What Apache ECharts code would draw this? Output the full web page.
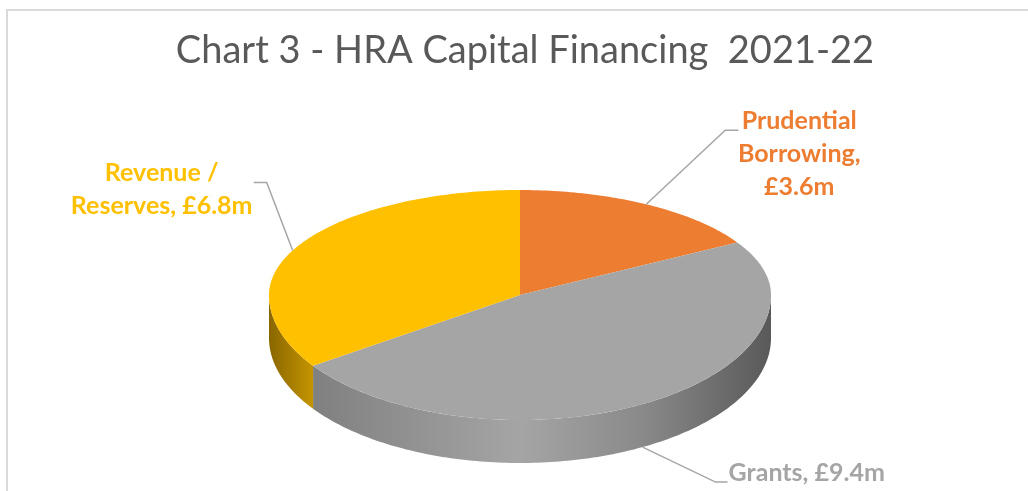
<!DOCTYPE html>
<html>
<head>
<meta charset="utf-8">
<style>
  html, body { margin: 0; padding: 0; background: #fff; }
  #chart { width: 1028px; height: 491px; }
</style>
<script src="https://cdn.jsdelivr.net/npm/echarts@6/dist/echarts.min.js"></script>
</head>
<body>
<div id="chart"></div>
<script>
const chartTitle = 'Chart 3 - HRA Capital Financing  2021-22'
const categories = ['Prudential Borrowing', 'Grants', 'Revenue / Reserves']
const values = [3.6, 9.4, 6.8]
const labelTexts = ['Prudential\nBorrowing,\n£3.6m', 'Grants, £9.4m', 'Revenue /\nReserves, £6.8m']

const sliceColors = ['#ed7d31', '#a5a5a5', '#ffc000']
const labelColors = ['#ed7d31', '#a5a5a5', '#ffc000']

// disc outline: the back half is flatter than the front half (excel 3d perspective)
const cx = 520
const cy = 295
const rx = 251
const ryBack = 105
const ryFront = 125
const wallDepth = 43

// leader elbow and end, relative to the slice anchor, then label position
const leaders = [
  { elbow: [79, -74], end: [92, -74], label: [153, -50], align: 'center', verticalAlign: 'middle' },
  { elbow: [73, 35], end: [85, 35], label: [86, 26], align: 'left', verticalAlign: 'middle' },
  { elbow: [-26, -68], end: [-39, -68], label: [-131, -61], align: 'center', verticalAlign: 'middle' }
]

const total = values.reduce((a, b) => a + b, 0)
const starts = []
values.reduce((sum, v, i) => { starts[i] = sum; return sum + v }, 0)

function toRad(deg) { return deg * Math.PI / 180 }

// slice angle to drawn angle, same idea as the foreshortening in the source chart
function warp(deg) {
  const s = Math.sin(toRad(deg))
  const amount = deg < 180 ? 4.7 : 2.7
  return deg - amount * s * s * (1 + Math.cos(toRad(deg)))
}

function rimPoint(phi, drop) {
  const a = toRad(phi)
  const ry = Math.cos(a) > 0 ? ryBack : ryFront
  return [cx + rx * Math.sin(a), cy - ry * Math.cos(a) + (drop || 0)]
}

function shaded(color) {
  const rgb = echarts.color.parse(color)
  const mul = f => `rgb(${rgb[0] * f | 0},${rgb[1] * f | 0},${rgb[2] * f | 0})`
  const stops = [[0, 0.54], [0.09, 0.78], [0.5, 1], [0.74, 0.84], [0.9, 0.66], [1, 0.54]]
  return new echarts.graphic.LinearGradient(cx - rx, 0, cx + rx, 0,
    stops.map(s => ({ offset: s[0], color: mul(s[1]) })), true)
}

function renderSlice(params, api) {
  const i = params.dataIndex
  const from = api.value(0) / total * 360
  const to = from + api.value(1) / total * 360
  const mid = (from + to) / 2
  const children = []

  // front wall, only what faces the viewer
  const wallFrom = Math.max(warp(from), 90)
  const wallTo = Math.min(warp(to), 270)
  if (wallTo > wallFrom) {
    const upper = []
    const lower = []
    for (let p = wallFrom; p < wallTo; p += 1) {
      upper.push(rimPoint(p))
      lower.unshift(rimPoint(p, wallDepth))
    }
    upper.push(rimPoint(wallTo))
    lower.unshift(rimPoint(wallTo, wallDepth))
    children.push({
      type: 'polygon',
      shape: { points: upper.concat(lower) },
      style: { fill: shaded(sliceColors[i]) }
    })
  }

  // top face
  const top = [[cx, cy]]
  for (let t = from; t < to; t += 1) {
    top.push(rimPoint(warp(t)))
  }
  top.push(rimPoint(warp(to)))
  children.push({
    type: 'polygon',
    shape: { points: top },
    style: { fill: sliceColors[i] }
  })

  // leader and label
  const phi = warp(mid)
  const onFront = phi > 90 && phi < 270
  const anchor = rimPoint(phi, onFront ? wallDepth : 0)
  const lead = leaders[i]
  children.push({
    type: 'polyline',
    shape: {
      points: [
        anchor,
        [anchor[0] + lead.elbow[0], anchor[1] + lead.elbow[1]],
        [anchor[0] + lead.end[0], anchor[1] + lead.end[1]]
      ]
    },
    style: { stroke: '#a6a6a6', lineWidth: 1.5, fill: null }
  })
  children.push({
    type: 'text',
    x: anchor[0] + lead.label[0],
    y: anchor[1] + lead.label[1],
    style: {
      text: labelTexts[i],
      fill: labelColors[i],
      font: 'bold 25px Lato, sans-serif',
      lineHeight: 33,
      align: lead.align,
      verticalAlign: lead.verticalAlign
    }
  })
  return { type: 'group', children }
}

const chart = echarts.init(document.getElementById('chart'), null, { renderer: 'canvas' })

chart.setOption({
  backgroundColor: '#fff',
  animation: false,
  title: {
    text: chartTitle,
    left: 520,
    top: 27,
    textAlign: 'center',
    textStyle: {
      color: '#595959',
      fontFamily: 'Lato, sans-serif',
      fontWeight: 'normal',
      fontSize: 38
    }
  },
  graphic: [{
    type: 'polyline',
    shape: { points: [[7, 491], [7, 10], [1028, 10]] },
    style: { stroke: '#d9d9d9', lineWidth: 2, fill: null }
  }],
  series: [{
    type: 'custom',
    coordinateSystem: 'none',
    renderItem: renderSlice,
    data: values.map((v, i) => ({ name: categories[i], value: [starts[i], v] }))
  }]
})
</script>
</body>
</html>
